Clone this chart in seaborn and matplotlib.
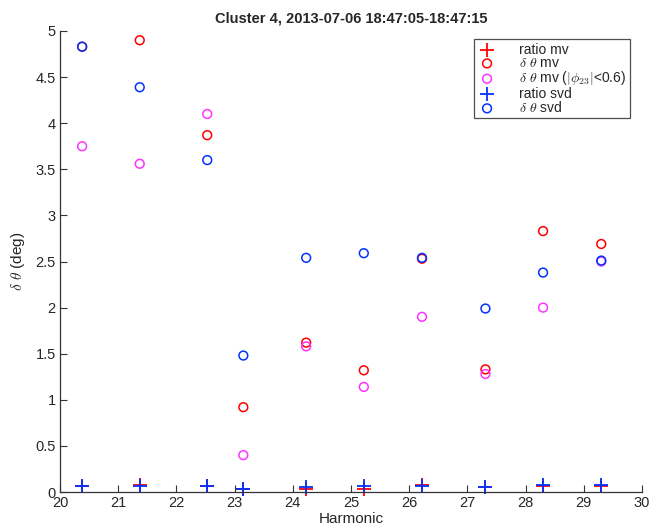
import pandas as pd
import seaborn as sns
import matplotlib.pyplot as plt

harmonic = [20.38, 21.37, 22.53, 23.15, 24.23, 25.22, 26.22, 27.31, 28.30, 29.30]
ratio_mv = [0.06, 0.08, 0.06, 0.03, 0.03, 0.03, 0.08, 0.05, 0.07, 0.07]
dtheta_mv = [4.83, 4.90, 3.87, 0.92, 1.62, 1.32, 2.53, 1.33, 2.83, 2.69]
dtheta_mv_phi = [3.75, 3.56, 4.10, 0.40, 1.58, 1.14, 1.90, 1.28, 2.00, 2.50]
ratio_svd = [0.07, 0.07, 0.07, 0.03, 0.05, 0.06, 0.07, 0.05, 0.08, 0.08]
dtheta_svd = [4.83, 4.39, 3.60, 1.48, 2.54, 2.59, 2.54, 1.99, 2.38, 2.51]

sns.set_style('white')
plt.rcParams['font.family'] = ['Liberation Sans', 'DejaVu Sans']
plt.rcParams['mathtext.fontset'] = 'cm'

tabela = pd.DataFrame({
    'Harmonic': harmonic,
    'ratio_mv': ratio_mv,
    'dtheta_mv': dtheta_mv,
    'dtheta_mv_phi': dtheta_mv_phi,
    'ratio_svd': ratio_svd,
    'dtheta_svd': dtheta_svd,
})

fig = plt.figure(figsize=(6.49, 5.26), dpi=100)
ax = fig.add_axes([60 / 649, 34 / 526, 582 / 649, 461 / 526])

series = [
    ('ratio_mv', 'ratio mv', '+', '#ff0000'),
    ('dtheta_mv', r'$\delta\ \theta$ mv', 'o', '#ff0000'),
    ('dtheta_mv_phi', r'$\delta\ \theta$ mv ($|\phi_{23}|$<0.6)', 'o', '#ff33ff'),
    ('ratio_svd', 'ratio svd', '+', '#0033ff'),
    ('dtheta_svd', r'$\delta\ \theta$ svd', 'o', '#0033ff'),
]

for col, label, marker, color in series:
    if marker == '+':
        sns.scatterplot(data=tabela, x='Harmonic', y=col, marker='+', s=110,
                        color=color, linewidth=1.3, label=label, ax=ax, clip_on=False)
    else:
        sns.scatterplot(data=tabela, x='Harmonic', y=col, marker='o', s=40,
                        facecolors='none', edgecolor=color, linewidth=1.1,
                        label=label, ax=ax, clip_on=False)

ax.set_xlim(20, 30)
ax.set_ylim(0, 5)
ax.set_xticks(range(20, 31))
ax.set_yticks([0, 0.5, 1, 1.5, 2, 2.5, 3, 3.5, 4, 4.5, 5])
ax.set_yticklabels(['0', '0.5', '1', '1.5', '2', '2.5', '3', '3.5', '4', '4.5', '5'])
ax.tick_params(direction='in', length=5, width=0.8, color='#333333', labelsize=10.5,
               bottom=True, left=True, pad=3)
for s in ['top', 'right']:
    ax.spines[s].set_visible(False)
for s in ['left', 'bottom']:
    ax.spines[s].set_color('#333333')
    ax.spines[s].set_linewidth(0.9)

ax.set_xlabel('Harmonic', fontsize=11, labelpad=1)
ax.set_ylabel(r'$\delta\ \theta$ (deg)', fontsize=11, labelpad=6)
ax.set_title('Cluster 4, 2013-07-06 18:47:05-18:47:15', fontsize=10.5, fontweight='bold', pad=6)

leg = ax.legend(loc='upper right', bbox_to_anchor=(0.979, 0.982), fontsize=10,
                frameon=True, fancybox=False, edgecolor='#222222',
                handletextpad=1.6, labelspacing=-0.05, borderpad=0.25, handlelength=1.4,
                borderaxespad=0)
leg.get_frame().set_linewidth(0.9)

plt.savefig('out.png', dpi=100)
plt.close()
